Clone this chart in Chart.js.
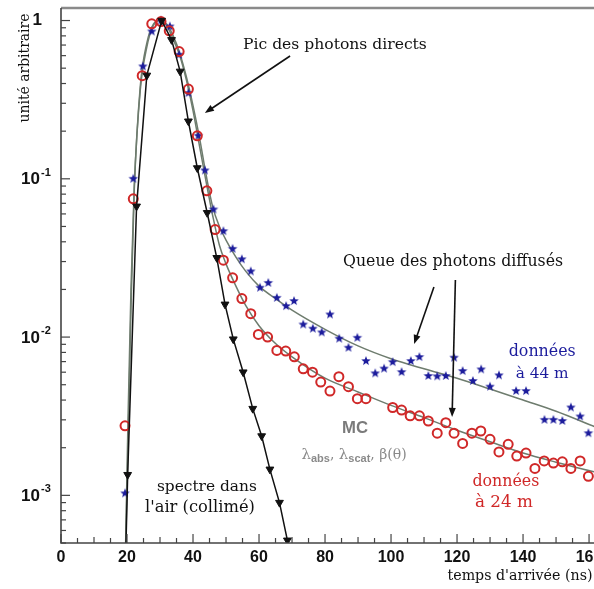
<!DOCTYPE html>
<html>
<head>
<meta charset="utf-8">
<script src="https://cdn.jsdelivr.net/npm/chart.js@4.4.1/dist/chart.umd.min.js"></script>
<style>
  html, body { margin: 0; padding: 0; background: #fff; }
  #wrap { width: 594px; height: 589px; }
</style>
</head>
<body>
<div id="wrap"><canvas id="c" width="594" height="589"></canvas></div>
<script>
// spectre dans l'air (collimé) - triangles noirs
const airX = [19.7, 20.2, 22.9, 26.0, 30.5, 33.5, 36.1, 38.6, 41.3, 44.3, 47.2, 49.7, 52.2, 55.2, 58.1, 60.8, 63.3, 66.2, 68.6, 69.6];
const airY = [0.0005, 0.00135, 0.067, 0.45, 1.0, 0.755, 0.477, 0.231, 0.117, 0.061, 0.0317, 0.0161, 0.0097, 0.0060, 0.00353, 0.00237, 0.00146, 0.0009, 0.00052, 0.0004];

// données à 24 m - cercles rouges
const d24X = [19.4, 21.9, 24.6, 27.5, 30.3, 32.8, 35.8, 38.6, 41.3, 44.2, 46.7, 49.2, 52.0, 54.8, 57.5, 59.8, 62.6, 65.4, 68.1, 70.7,
  73.4, 76.2, 78.7, 81.5, 84.2, 87.1, 89.8, 92.4, 100.5, 103.2, 105.8, 108.6, 111.3, 114.0, 116.6, 119.1, 121.7, 124.5, 127.2, 130.0,
  132.7, 135.5, 138.1, 140.9, 143.6, 146.4, 149.2, 151.9, 154.5, 157.3, 159.8];
const d24Y = [0.00275, 0.0747, 0.448, 0.953, 0.985, 0.861, 0.637, 0.369, 0.187, 0.084, 0.0478, 0.0306, 0.0237, 0.0175, 0.01405, 0.0104, 0.01, 0.00824, 0.00816, 0.0075,
  0.0063, 0.006, 0.0052, 0.00456, 0.00562, 0.00486, 0.00408, 0.00408, 0.00359, 0.00346, 0.00318, 0.00318, 0.00295, 0.00247, 0.00288, 0.00247, 0.00213, 0.00247, 0.00255, 0.00226,
  0.00188, 0.0021, 0.00177, 0.00185, 0.00148, 0.00165, 0.0016, 0.00163, 0.00148, 0.00165, 0.00132];

// données à 44 m - étoiles bleues
const d44X = [19.4, 21.9, 24.8, 27.5, 30.3, 33.0, 35.8, 38.6, 41.6, 43.6, 46.2, 49.2, 52.0, 54.8, 57.5, 60.3, 62.8, 65.4, 68.2, 70.6,
  73.4, 76.3, 79.0, 81.5, 84.3, 87.1, 89.8, 92.4, 95.2, 97.9, 100.5, 103.2, 106.0, 108.6, 111.3, 114.0, 116.6, 119.1, 121.7, 124.8,
  127.3, 130.0, 132.7, 137.9, 140.9, 146.5, 149.2, 151.9, 154.5, 157.3, 159.8];
const d44Y = [0.00103, 0.1, 0.513, 0.853, 1.0, 0.917, 0.608, 0.348, 0.187, 0.113, 0.064, 0.0467, 0.0361, 0.031, 0.026, 0.0205, 0.022, 0.0177, 0.0157, 0.0169,
  0.012, 0.0113, 0.0107, 0.0139, 0.00977, 0.00857, 0.0099, 0.00706, 0.0059, 0.00632, 0.00695, 0.00601, 0.00706, 0.00748, 0.00568, 0.00565, 0.00568, 0.00741, 0.0061, 0.00528,
  0.00625, 0.00486, 0.00573, 0.00456, 0.00456, 0.003, 0.003, 0.00295, 0.00359, 0.00315, 0.00247];

// simulations MC
const mcX = [19.5, 20.3, 21.2, 22.2, 24, 26, 28, 30, 32, 34, 36, 38, 40, 42, 44, 46, 48, 50, 53, 56, 60, 65, 70, 80, 90, 100, 110, 120, 130, 140, 150, 162];
const mc24Y = [0.0004, 0.003, 0.02, 0.09, 0.36, 0.68, 0.93, 1.0, 0.93, 0.76, 0.6, 0.42, 0.27, 0.16, 0.095, 0.058, 0.038, 0.029, 0.021, 0.0158, 0.0118, 0.0091, 0.0075, 0.0055, 0.0045, 0.0037, 0.0031, 0.00258, 0.00218, 0.00185, 0.00162, 0.0014];
const mc44Y = [0.0004, 0.002, 0.015, 0.085, 0.38, 0.72, 0.95, 1.0, 0.95, 0.8, 0.62, 0.44, 0.29, 0.18, 0.105, 0.066, 0.05, 0.041, 0.032, 0.026, 0.021, 0.0175, 0.0148, 0.0112, 0.0088, 0.0073, 0.0063, 0.0055, 0.0047, 0.004, 0.0034, 0.0027];

const xTicks = [0, 20, 40, 60, 80, 100, 120, 140, 160];
const yDecades = [0, -1, -2, -3];

const zip = (xs, ys) => xs.map((x, i) => ({ x: x, y: ys[i] }));

const BLUE = '#1c1c9c';
const RED = '#d02828';
const MCGREY = '#6e7c6e';

// étoile pleine à 5 branches
function makeStar(r, color) {
  const c = document.createElement('canvas');
  const s = Math.ceil(r * 2 + 2);
  c.width = c.height = s;
  const g = c.getContext('2d');
  g.fillStyle = color;
  g.beginPath();
  for (let i = 0; i < 10; i++) {
    const a = -Math.PI / 2 + i * Math.PI / 5;
    const rr = i % 2 ? r * 0.42 : r;
    g.lineTo(s / 2 + rr * Math.cos(a), s / 2 + rr * Math.sin(a));
  }
  g.closePath();
  g.fill();
  return c;
}
const star = makeStar(5, BLUE);

// texte ajusté à une largeur donnée
function fitText(ctx, s, cx, cy, family, weight, color, width) {
  ctx.font = weight + ' 20px ' + family;
  const w = ctx.measureText(s).width;
  ctx.font = weight + ' ' + (20 * width / w).toFixed(2) + 'px ' + family;
  ctx.fillStyle = color;
  ctx.textAlign = 'center';
  ctx.textBaseline = 'middle';
  ctx.fillText(s, cx, cy);
}

function arrow(ctx, x1, y1, x2, y2) {
  const ang = Math.atan2(y2 - y1, x2 - x1);
  const L = 9, W = 3.5;
  ctx.strokeStyle = '#111';
  ctx.fillStyle = '#111';
  ctx.lineWidth = 1.6;
  ctx.beginPath();
  ctx.moveTo(x1, y1);
  ctx.lineTo(x2 - L * Math.cos(ang) * 0.8, y2 - L * Math.sin(ang) * 0.8);
  ctx.stroke();
  ctx.beginPath();
  ctx.moveTo(x2, y2);
  ctx.lineTo(x2 - L * Math.cos(ang) - W * Math.sin(ang), y2 - L * Math.sin(ang) + W * Math.cos(ang));
  ctx.lineTo(x2 - L * Math.cos(ang) + W * Math.sin(ang), y2 - L * Math.sin(ang) - W * Math.cos(ang));
  ctx.closePath();
  ctx.fill();
}

const SERIF = '"DejaVu Serif", "Liberation Serif", serif';
const SANS = '"Liberation Sans", Arial, sans-serif';

const deco = {
  id: 'deco',
  afterDraw(chart) {
    const { ctx, chartArea: a, scales: { x, y } } = chart;
    const P = (xv, yv) => [x.getPixelForValue(xv), y.getPixelForValue(yv)];
    ctx.save();

    // cadre
    ctx.strokeStyle = '#8a8a8a';
    ctx.lineWidth = 2.5;
    ctx.beginPath(); ctx.moveTo(a.left, a.top); ctx.lineTo(a.right, a.top); ctx.stroke();
    ctx.strokeStyle = '#444';
    ctx.lineWidth = 1.6;
    ctx.beginPath(); ctx.moveTo(a.left, a.top); ctx.lineTo(a.left, a.bottom); ctx.lineTo(a.right, a.bottom); ctx.stroke();

    // graduations y
    ctx.lineWidth = 1.2;
    for (let e = -4; e <= 0; e++) {
      for (let k = 1; k <= 9; k++) {
        const v = k * Math.pow(10, e);
        if (v < y.min || v > y.max) continue;
        const py = y.getPixelForValue(v);
        ctx.beginPath(); ctx.moveTo(a.left, py); ctx.lineTo(a.left + (k === 1 ? 9 : 5), py); ctx.stroke();
      }
    }
    // graduations x
    for (let v = 0; v <= x.max; v += 5) {
      const px = x.getPixelForValue(v);
      const len = v % 20 === 0 ? 9 : (v % 10 === 0 ? 6 : 5);
      ctx.beginPath(); ctx.moveTo(px, a.bottom); ctx.lineTo(px, a.bottom - len); ctx.stroke();
    }

    // étiquettes x
    ctx.fillStyle = '#111';
    ctx.font = 'bold 16px ' + SANS;
    ctx.textAlign = 'center';
    ctx.textBaseline = 'middle';
    xTicks.forEach(v => ctx.fillText(String(v), x.getPixelForValue(v), a.bottom + 15));

    // étiquettes y
    yDecades.forEach(e => {
      const py = y.getPixelForValue(Math.pow(10, e));
      ctx.textBaseline = 'middle';
      if (e === 0) {
        ctx.font = 'bold 17px ' + SANS;
        ctx.textAlign = 'right';
        ctx.fillText('1', a.left - 19, py);
      } else {
        ctx.font = 'bold 17px ' + SANS;
        ctx.textAlign = 'right';
        ctx.fillText('10', a.left - 21, py + 1);
        ctx.font = 'bold 11px ' + SANS;
        ctx.textAlign = 'left';
        ctx.fillText('-' + (-e), a.left - 20, py - 6);
      }
    });

    // titres des axes
    fitText(ctx, "temps d'arrivée (ns)", 520, a.bottom + 33, SERIF, 'normal', '#111', 145);
    ctx.save();
    ctx.translate(25, 68);
    ctx.rotate(-Math.PI / 2);
    fitText(ctx, 'unité arbitraire', 0, 0, SERIF, 'normal', '#111', 109);
    ctx.restore();

    // annotations
    let p = P(83.0, 0.70);
    fitText(ctx, 'Pic des photons directs', p[0], p[1], SERIF, 'normal', '#111', 184);
    let p1 = P(69.4, 0.597), p2 = P(43.6, 0.2606);
    arrow(ctx, p1[0], p1[1], p2[0], p2[1]);

    p = P(118.8, 0.0298);
    fitText(ctx, 'Queue des photons diffusés', p[0], p[1], SERIF, 'normal', '#111', 220);
    p1 = P(113.0, 0.02073); p2 = P(107.0, 0.009048);
    arrow(ctx, p1[0], p1[1], p2[0], p2[1]);
    p1 = P(119.5, 0.02296); p2 = P(118.5, 0.00313);
    arrow(ctx, p1[0], p1[1], p2[0], p2[1]);

    p = P(145.8, 0.00805);
    fitText(ctx, 'données', p[0], p[1], SERIF, 'normal', BLUE, 67);
    p = P(145.8, 0.00585);
    fitText(ctx, 'à 44 m', p[0], p[1], SERIF, 'normal', BLUE, 53);

    p = P(134.8, 0.001216);
    fitText(ctx, 'données', p[0], p[1], SERIF, 'normal', RED, 67);
    p = P(134.2, 0.000896);
    fitText(ctx, 'à 24 m', p[0], p[1], SERIF, 'normal', RED, 58);

    p = P(44.2, 0.00113);
    fitText(ctx, 'spectre dans', p[0], p[1], SERIF, 'normal', '#111', 100);
    p = P(42.1, 0.000833);
    fitText(ctx, "l'air (collimé)", p[0], p[1], SERIF, 'normal', '#111', 110);

    p = P(89.1, 0.002667);
    fitText(ctx, 'MC', p[0], p[1], SANS, 'bold', '#7a7a7a', 26);

    // λabs, λscat, β(θ)
    p = P(88.8, 0.0018);
    const parts = [
      ['λ', '15px ' + SERIF, 0], ['abs', 'bold 11px ' + SANS, 4], [', ', '14px ' + SERIF, 0],
      ['λ', '15px ' + SERIF, 0], ['scat', 'bold 11px ' + SANS, 4], [', β(θ)', '14px ' + SERIF, 0]
    ];
    let tot = 0;
    parts.forEach(q => { ctx.font = q[1]; tot += ctx.measureText(q[0]).width; });
    let cx = p[0] - tot / 2;
    ctx.fillStyle = '#8a8a8a';
    ctx.textAlign = 'left';
    ctx.textBaseline = 'middle';
    parts.forEach(q => { ctx.font = q[1]; ctx.fillText(q[0], cx, p[1] + q[2]); cx += ctx.measureText(q[0]).width; });

    ctx.restore();
  }
};

new Chart(document.getElementById('c'), {
  type: 'scatter',
  data: {
    datasets: [
      {
        label: "spectre dans l'air",
        data: zip(airX, airY),
        showLine: true,
        borderColor: '#111',
        borderWidth: 1.5,
        pointStyle: 'triangle',
        rotation: 180,
        pointRadius: airX.map((v, i) => (i === 0 || i === airX.length - 1) ? 0 : 4.5),
        pointBackgroundColor: '#111',
        pointBorderColor: '#111',
        pointBorderWidth: 1
      },
      {
        label: 'données à 24 m',
        data: zip(d24X, d24Y),
        pointStyle: 'circle',
        pointRadius: 4.5,
        pointBorderWidth: 2,
        pointBorderColor: RED,
        pointBackgroundColor: 'rgba(0,0,0,0)'
      },
      {
        label: 'données à 44 m',
        data: zip(d44X, d44Y),
        pointStyle: star,
        pointRadius: 5
      },
      {
        label: 'MC 24 m',
        data: zip(mcX, mc24Y),
        showLine: true,
        pointRadius: 0,
        borderColor: MCGREY,
        borderWidth: 1.5,
        cubicInterpolationMode: 'monotone'
      },
      {
        label: 'MC 44 m',
        data: zip(mcX, mc44Y),
        showLine: true,
        pointRadius: 0,
        borderColor: MCGREY,
        borderWidth: 1.5,
        cubicInterpolationMode: 'monotone'
      }
    ]
  },
  options: {
    responsive: false,
    animation: false,
    events: [],
    layout: { padding: { top: 8, right: 0, left: 0, bottom: 0 }, autoPadding: false },
    plugins: { legend: { display: false }, tooltip: { enabled: false } },
    scales: {
      x: {
        type: 'linear', min: 0, max: 161.5,
        grid: { display: false }, border: { display: false },
        ticks: { display: false },
        afterFit: s => { s.height = 46; }
      },
      y: {
        type: 'logarithmic', min: 0.0005, max: 1.2,
        grid: { display: false }, border: { display: false },
        ticks: { display: false },
        afterFit: s => { s.width = 61; }
      }
    }
  },
  plugins: [deco]
});
</script>
</body>
</html>
